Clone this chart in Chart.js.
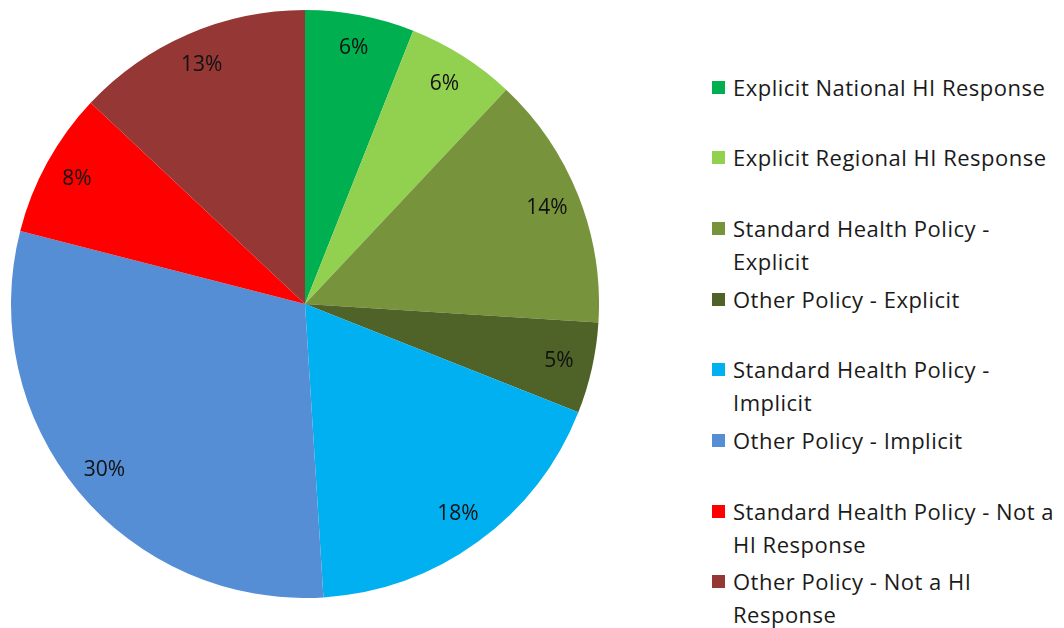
<!DOCTYPE html>
<html>
<head>
<meta charset="utf-8">
<script src="https://cdn.jsdelivr.net/npm/chart.js@4"></script>
<style>
	body { margin: 0; background: #fff; width: 1064px; height: 628px; position: relative; overflow: hidden; }
	#pieBox { position: absolute; left: 11px; top: 10px; width: 588px; height: 588px; }
	#legend { position: absolute; left: 712px; top: 0; font-family: "Open Sans", sans-serif; font-size: 22px; letter-spacing: 0.5px; color: #1a1a1a; }
	.item { position: absolute; left: 0; width: 352px; line-height: 33px; }
	.item .box { position: absolute; left: 0; top: 10px; width: 13px; height: 13px; }
	.item .txt { margin-left: 21px; width: 331px; }
</style>
</head>
<body>
<div id="pieBox"><canvas id="chart"></canvas></div>
<div id="legend"></div>
<script>
const categories = [
	"Explicit National HI Response",
	"Explicit Regional HI Response",
	"Standard Health Policy - Explicit",
	"Other Policy - Explicit",
	"Standard Health Policy - Implicit",
	"Other Policy - Implicit",
	"Standard Health Policy - Not a HI Response",
	"Other Policy - Not a HI Response",
];
const shares = [6, 6, 14, 5, 18, 30, 8, 13];
const colors = ["#00B050", "#92D050", "#77933C", "#4F6228", "#00B0F0", "#558ED5", "#FF0000", "#953735"];

// percentage text inside each slice
const sliceLabels = {
	id: "sliceLabels",
	afterDatasetsDraw(chart) {
		const { ctx } = chart;
		const meta = chart.getDatasetMeta(0);
		ctx.save();
		ctx.font = "21px 'Open Sans', sans-serif";
		ctx.fillStyle = "#111";
		ctx.textAlign = "center";
		ctx.textBaseline = "middle";
		meta.data.forEach((arc, i) => {
			const mid = (arc.startAngle + arc.endAngle) / 2;
			const r = arc.outerRadius * 0.885;
			ctx.fillText(shares[i] + "%", arc.x + Math.cos(mid) * r, arc.y + Math.sin(mid) * r);
		});
		ctx.restore();
	},
};

new Chart(document.querySelector("#chart"), {
	type: "pie",
	data: {
		labels: categories,
		datasets: [{ data: shares, backgroundColor: colors, borderWidth: 0 }],
	},
	options: {
		responsive: true,
		maintainAspectRatio: false,
		animation: false,
		layout: { padding: 0 },
		plugins: { legend: { display: false }, tooltip: { enabled: false } },
	},
	plugins: [sliceLabels],
});

const legend = document.querySelector("#legend");
categories.forEach((name, i) => {
	const item = document.createElement("div");
	item.className = "item";
	item.style.top = (87 - 16.5 + i * 70.7) + "px";
	item.innerHTML = '<span class="box" style="background:' + colors[i] + '"></span><div class="txt">' + name + "</div>";
	legend.appendChild(item);
});
</script>
</body>
</html>
